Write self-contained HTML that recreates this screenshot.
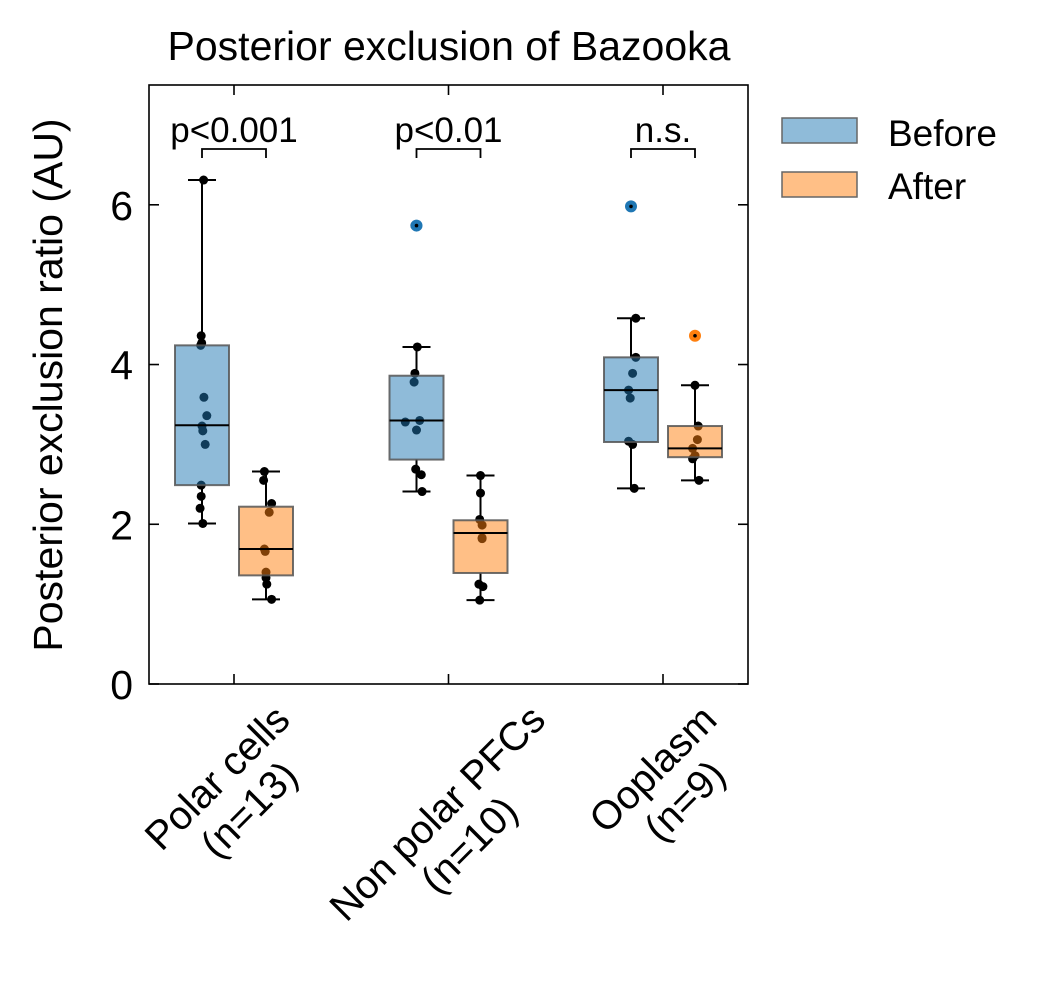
<!DOCTYPE html>
<html><head><meta charset="utf-8"><style>
html,body{margin:0;padding:0;background:#fff;}
svg{display:block;font-family:"Liberation Sans",Arial,sans-serif;}
</style></head><body>
<svg id="chart" width="1042" height="997" viewBox="0 0 1042 997" xmlns="http://www.w3.org/2000/svg">
<rect width="1042" height="997" fill="#fff"/>
<text x="449" y="60" font-size="41" text-anchor="middle">Posterior exclusion of Bazooka</text>
<text transform="translate(62,385) rotate(-90)" font-size="41" text-anchor="middle">Posterior exclusion ratio (AU)</text>
<g id="plot"></g>
<g>
<rect x="782" y="118" width="75" height="25" fill="#8fbbd9" stroke="#666" stroke-width="1.5"/>
<text x="888" y="146" font-size="37">Before</text>
<rect x="782" y="172" width="75" height="25" fill="#ffbf86" stroke="#666" stroke-width="1.5"/>
<text x="888" y="199" font-size="37">After</text>
</g>
</svg>
<script>
const categories = ["Polar cells", "Non polar PFCs", "Ooplasm"];
const countLabels = ["(n=13)", "(n=10)", "(n=9)"];
const pLabels = ["p<0.001", "p<0.01", "n.s."];
const yTicks = [0, 2, 4, 6];
// box stats: [whislo, q1, median, q3, whishi]
const beforeStats = [[2.01,2.49,3.24,4.24,6.31],[2.41,2.81,3.30,3.86,4.22],[2.45,3.03,3.68,4.09,4.58]];
const afterStats = [[1.06,1.36,1.69,2.22,2.66],[1.05,1.39,1.89,2.05,2.61],[2.55,2.84,2.95,3.23,3.74]];
const beforeFliers = [[],[5.74],[5.98]];
const afterFliers = [[],[],[4.36]];
const beforePoints = [[6.31,4.36,4.27,4.24,3.59,3.36,3.23,3.17,3.0,2.49,2.35,2.2,2.01],[5.74,4.22,3.89,3.78,3.28,3.3,3.18,2.69,2.62,2.41],[5.98,4.58,4.09,3.89,3.68,3.58,3.04,3.0,2.45]];
const afterPoints = [[2.66,2.55,2.26,2.15,1.69,1.66,1.4,1.33,1.25,1.06],[2.61,2.39,2.06,1.99,1.83,1.82,1.25,1.22,1.05],[4.36,3.74,3.23,3.06,2.95,2.86,2.82,2.55]];
const beforeJitter = [[0.1,-0.05,-0.02,-0.08,0.12,0.3,0.0,0.05,0.2,-0.05,-0.05,-0.12,0.05],[-0.1,0.05,-0.1,-0.15,-0.7,0.2,0.0,-0.05,0.3,0.35],[0.0,0.3,0.3,0.1,-0.15,-0.05,-0.15,0.1,0.2]];
const afterJitter = [[-0.1,-0.15,0.35,0.2,-0.1,-0.05,0.0,0.0,0.05,0.35],[0.0,0.0,-0.05,0.1,0.1,0.1,-0.1,0.15,-0.05],[0.0,0.0,0.2,0.15,-0.15,0.0,-0.15,0.25]];

const L=149,R=748,T=85,B=684;
const yScale=v=>B-(v/7.5)*(B-T);
const xCenter=i=>234+i*214.5;
const labelShift=[58,99,56];
const NS="http://www.w3.org/2000/svg";
const plot=document.getElementById('plot');
function mk(tag,attrs,parent){const e=document.createElementNS(NS,tag);for(const k in attrs)e.setAttribute(k,attrs[k]);(parent||plot).appendChild(e);return e;}
const BW=54, OFF=32;

[[beforePoints,beforeJitter,-OFF],[afterPoints,afterJitter,OFF]].forEach(([pts,jit,off],s)=>{
  pts.forEach((arr,i)=>arr.forEach((v,j)=>{
    const c=mk('circle',{cx:xCenter(i)+off+jit[i][j]*16,cy:yScale(v),r:4.5,fill:'#000'});
    
    
  }));
});
[[beforeStats,beforeFliers,-OFF,'#1f77b4'],[afterStats,afterFliers,OFF,'#ff7f0e']].forEach(([stats,fl,off,col],s)=>{
  stats.forEach((st,i)=>{
    const cx=xCenter(i)+off;
    const g=mk('g',{});
    
    
    mk('line',{x1:cx,x2:cx,y1:yScale(st[0]),y2:yScale(st[1]),stroke:'#000','stroke-width':2},g);
    mk('line',{x1:cx,x2:cx,y1:yScale(st[3]),y2:yScale(st[4]),stroke:'#000','stroke-width':2},g);
    mk('line',{x1:cx-14,x2:cx+14,y1:yScale(st[0]),y2:yScale(st[0]),stroke:'#000','stroke-width':2},g);
    mk('line',{x1:cx-14,x2:cx+14,y1:yScale(st[4]),y2:yScale(st[4]),stroke:'#000','stroke-width':2},g);
    mk('rect',{x:cx-BW/2,y:yScale(st[3]),width:BW,height:yScale(st[1])-yScale(st[3]),fill:col,'fill-opacity':0.5,stroke:'#555','stroke-opacity':0.85,'stroke-width':2},g);
    mk('line',{x1:cx-BW/2,x2:cx+BW/2,y1:yScale(st[2]),y2:yScale(st[2]),stroke:'#000','stroke-width':2},g);
    fl[i].forEach(v=>{
      const f=mk('circle',{cx:cx,cy:yScale(v),r:6,fill:col},g);
      
      
      mk('circle',{cx:cx,cy:yScale(v),r:1.8,fill:'#000'},g);
    });
  });
});
const fr=mk('rect',{x:L,y:T,width:R-L,height:B-T,fill:'none',stroke:'#000','stroke-width':1.6});


yTicks.forEach(v=>{
  const y=yScale(v);
  mk('line',{x1:L,x2:L+10,y1:y,y2:y,stroke:'#000','stroke-width':1.6});
  mk('line',{x1:R-10,x2:R,y1:y,y2:y,stroke:'#000','stroke-width':1.6});
  const t=mk('text',{x:L-16,y:y+15,'font-size':41,'text-anchor':'end'});
  t.textContent=v;
  
  
});
categories.forEach((c,i)=>{
  const x=xCenter(i);
  mk('line',{x1:x,x2:x,y1:B-10,y2:B,stroke:'#000','stroke-width':1.6});
  mk('line',{x1:x,x2:x,y1:T,y2:T+10,stroke:'#000','stroke-width':1.6});
  const g=mk('g',{transform:`translate(${x+labelShift[i]},722) rotate(-45)`});
  
  
  const t1=mk('text',{x:0,y:0,'font-size':40,'text-anchor':'end'},g);
  t1.textContent=c;
  const w=t1.getComputedTextLength();
  const t2=mk('text',{x:-w/2,y:45,'font-size':40,'text-anchor':'middle'},g);
  t2.textContent=countLabels[i];
  const by=149;
  const bk=mk('path',{d:`M${x-OFF},158 L${x-OFF},${by} L${x+OFF},${by} L${x+OFF},158`,fill:'none',stroke:'#000','stroke-width':1.8});
  
  
  const pt=mk('text',{x:x,y:142,'font-size':35,'text-anchor':'middle'});
  pt.textContent=pLabels[i];
  
  
});
</script>
</body></html>
